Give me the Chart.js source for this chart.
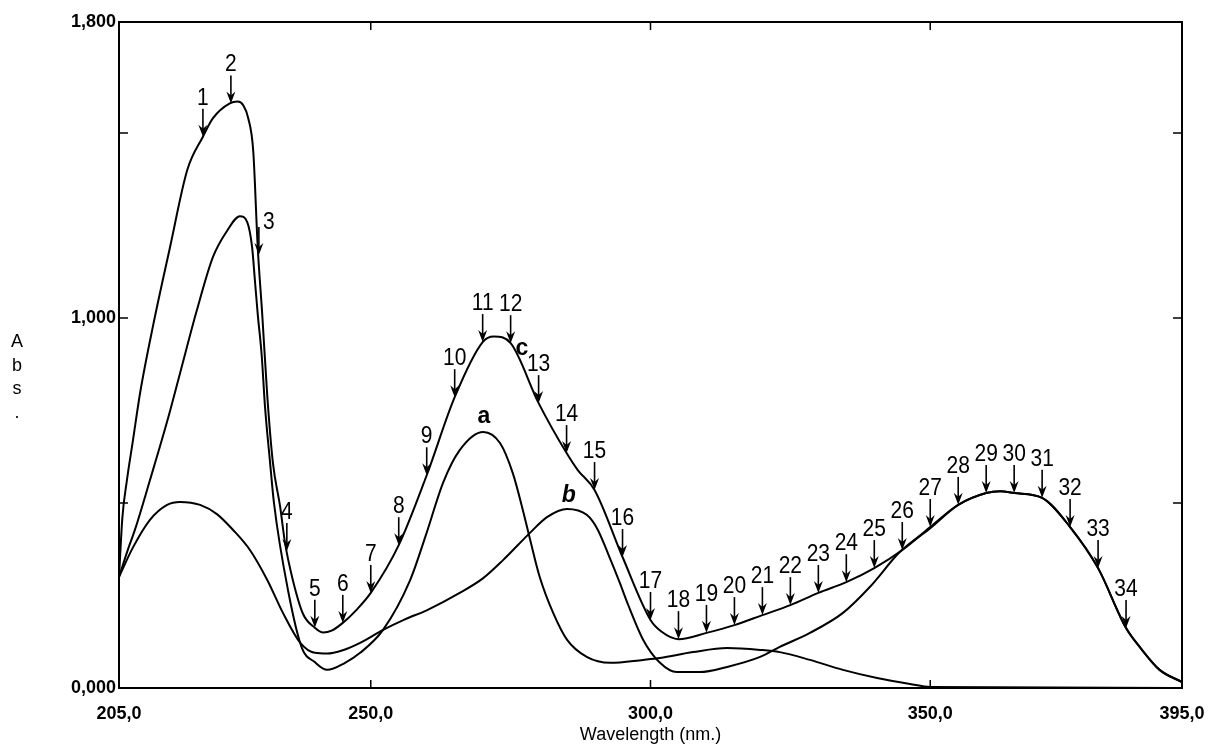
<!DOCTYPE html>
<html>
<head>
<meta charset="utf-8">
<title>Abs spectra</title>
<script src="https://cdn.jsdelivr.net/npm/chart.js"></script>
<style>
    html, body { margin: 0; padding: 0; background: #fff; }
    #wrap { width: 1222px; height: 751px; }
</style>
</head>
<body>
<div id="wrap"><canvas id="absChart" width="1222" height="751"></canvas></div>
<script>
// Spectra: wavelength (nm) / absorbance
const aWl = [205, 206.5, 207.9, 210.5, 213.6, 215.9, 218.9, 221.8, 224.3, 226.6,
    227.9, 228.8, 229.3, 229.8, 230.5, 231.1, 232.0, 232.7, 235.2, 237.7,
    240.0, 242.2, 245.4, 248.1, 252.2, 257.0, 260.0, 262.9, 265.9, 270.1,
    273.1, 275.4, 277.2, 278.5, 280.2, 282.6, 285.1, 288.6, 292.8, 298.7,
    301.7, 307.6, 313.7, 319.6, 323.1, 328.5, 334.4, 340.5, 346.4, 350.0, 395.0];
const aAbs = [0.30, 0.37, 0.43, 0.56, 0.72, 0.85, 1.02, 1.165, 1.235, 1.275,
    1.26, 1.19, 1.10, 1.01, 0.90, 0.76, 0.61, 0.50, 0.265, 0.108,
    0.070, 0.049, 0.068, 0.095, 0.157, 0.29, 0.42, 0.554, 0.643, 0.692,
    0.662, 0.58, 0.48, 0.40, 0.30, 0.203, 0.13, 0.084, 0.068, 0.076,
    0.081, 0.097, 0.108, 0.103, 0.097, 0.076, 0.049, 0.027, 0.011, 0.003, 0.0];

const bWl = [205, 207.5, 210.5, 213.6, 215.9, 219.5, 222.5, 225.4, 228.4, 231.5,
    234.3, 237.4, 240.0, 242.2, 245.0, 248.1, 252.2, 256.0, 260.0, 265.9,
    270.1, 273.6, 278.5, 281.5, 285.1, 288.6, 290.5, 292.5, 294.5, 296.0,
    298.7, 301.7, 304.7, 308.8, 313.7, 319.6, 323.1, 328.5, 334.4, 339.2,
    344.6, 350, 355, 360, 362.5, 365, 370, 375, 380, 385, 387.5, 391, 395];
const bAbs = [0.30, 0.38, 0.454, 0.495, 0.503, 0.495, 0.47, 0.427, 0.373, 0.292,
    0.203, 0.122, 0.095, 0.093, 0.102, 0.122, 0.157, 0.185, 0.21, 0.257,
    0.297, 0.345, 0.42, 0.462, 0.484, 0.468, 0.43, 0.36, 0.285, 0.225,
    0.13, 0.068, 0.043, 0.043, 0.057, 0.084, 0.111, 0.149, 0.203, 0.273,
    0.368, 0.432, 0.495, 0.527, 0.532, 0.527, 0.514, 0.435, 0.324, 0.162, 0.110, 0.049, 0.016];

const cWl = [205, 205.6, 206.4, 207.5, 208.8, 211.1, 214.1, 217.2, 220, 221.8,
    224.8, 226.2, 227.2, 228.1, 229, 229.8, 230.6, 231.5, 232.5, 233.8,
    234.7, 236.1, 237.9, 240, 241.5, 243, 245, 247.5, 250, 255,
    260, 265, 270, 272, 275, 280, 285, 287, 290, 295,
    300, 302, 305, 310, 315, 320, 325, 330, 335, 340,
    345, 350, 355, 360, 362.5, 365, 370, 375, 380, 385, 387.5, 391, 395];
const cAbs = [0.30, 0.46, 0.56, 0.67, 0.80, 0.98, 1.19, 1.40, 1.49, 1.54,
    1.58, 1.585, 1.575, 1.54, 1.45, 1.19, 1.01, 0.79, 0.61, 0.49,
    0.39, 0.29, 0.20, 0.163, 0.150, 0.155, 0.176, 0.212, 0.257, 0.386,
    0.575, 0.786, 0.935, 0.950, 0.932, 0.770, 0.635, 0.589, 0.535, 0.354,
    0.184, 0.152, 0.132, 0.149, 0.170, 0.197, 0.224, 0.257, 0.286, 0.324,
    0.373, 0.435, 0.495, 0.527, 0.532, 0.527, 0.514, 0.435, 0.324, 0.162, 0.110, 0.049, 0.016];

// numbered arrows on curve c (1..34)
const arrowWl = [220, 225, 230, 235, 240, 245, 250, 255, 260, 265,
    270, 275, 280, 285, 290, 295, 300, 305, 310, 315,
    320, 325, 330, 335, 340, 345, 350, 355, 360, 365,
    370, 375, 380, 385];
const arrowAbs = [1.49, 1.58, 1.17, 0.37, 0.163, 0.176, 0.257, 0.386, 0.575, 0.786,
    0.935, 0.932, 0.770, 0.635, 0.535, 0.354, 0.184, 0.132, 0.149, 0.170,
    0.197, 0.224, 0.257, 0.286, 0.324, 0.373, 0.435, 0.495, 0.527, 0.527,
    0.514, 0.435, 0.324, 0.162];

const curveNames = ['a', 'b', 'c'];
const curveNameWl = [270.2, 285.4, 277.0];
const curveNameAbs = [0.716, 0.503, 0.90];

const xTicks = [205, 250, 300, 350, 395];
const xTickLabels = ['205,0', '250,0', '300,0', '350,0', '395,0'];
const yTicks = [0, 0.5, 1.0, 1.5, 1.8];
const yTickLabels = ['0,000', '', '1,000', '', '1,800'];
const yTitleLetters = ['A', 'b', 's', '.'];

const toPoints = (wl, abs) => wl.map((w, i) => ({ x: w, y: abs[i] }));

function curve(label, wl, abs) {
    return {
        label: label,
        data: toPoints(wl, abs),
        borderColor: '#000',
        borderWidth: 2,
        pointRadius: 0,
        fill: false,
        cubicInterpolationMode: 'monotone'
    };
}

// frame, inward ticks, arrows and text labels
const decorPlugin = {
    id: 'decor',
    afterDraw(chart) {
        const { ctx, chartArea: area, scales: { x, y } } = chart;
        ctx.save();
        ctx.strokeStyle = '#000';
        ctx.fillStyle = '#000';

        ctx.lineWidth = 2;
        ctx.beginPath();
        ctx.moveTo(area.left, area.top);
        ctx.lineTo(area.right, area.top);
        ctx.lineTo(area.right, area.bottom);
        ctx.stroke();

        ctx.lineWidth = 1.5;
        ctx.beginPath();
        xTicks.slice(1, -1).forEach(v => {
            const px = x.getPixelForValue(v);
            ctx.moveTo(px, area.bottom);
            ctx.lineTo(px, area.bottom - 8);
            ctx.moveTo(px, area.top);
            ctx.lineTo(px, area.top + 8);
        });
        yTicks.slice(1, -1).forEach(v => {
            const py = y.getPixelForValue(v);
            ctx.moveTo(area.left, py);
            ctx.lineTo(area.left + 9, py);
            ctx.moveTo(area.right, py);
            ctx.lineTo(area.right - 9, py);
        });
        ctx.stroke();

        // arrows
        ctx.textAlign = 'center';
        ctx.textBaseline = 'alphabetic';
        ctx.font = '21px "Liberation Sans", Arial, sans-serif';
        arrowWl.forEach((w, i) => {
            const px = x.getPixelForValue(w);
            const py = y.getPixelForValue(arrowAbs[i]);
            ctx.lineWidth = 1.6;
            ctx.beginPath();
            ctx.moveTo(px, py - 28);
            ctx.lineTo(px, py - 6);
            ctx.stroke();
            ctx.beginPath();
            ctx.moveTo(px, py);
            ctx.lineTo(px - 4.5, py - 12);
            ctx.lineTo(px, py - 8);
            ctx.lineTo(px + 4.5, py - 12);
            ctx.closePath();
            ctx.fill();

            let lx = px, ly = py - 32;
            if (i === 2) { lx = px + 10; ly = py - 26; }
            ctx.save();
            ctx.translate(lx, ly);
            ctx.scale(1, 1.18);
            ctx.fillText(String(i + 1), 0, 0);
            ctx.restore();
        });

        // curve names
        curveNames.forEach((name, i) => {
            ctx.font = (name === 'b' ? 'italic ' : '') + 'bold 23px "Liberation Sans", Arial, sans-serif';
            ctx.fillText(name, x.getPixelForValue(curveNameWl[i]), y.getPixelForValue(curveNameAbs[i]));
        });

        // stacked y title
        ctx.font = '18px "Liberation Sans", Arial, sans-serif';
        yTitleLetters.forEach((ch, i) => {
            ctx.fillText(ch, 17, 347 + i * 23.5);
        });
        ctx.restore();
    }
};

const tickFont = { family: '"Liberation Sans", Arial, sans-serif', size: 18, weight: 'bold' };

const absChart = new Chart(document.getElementById('absChart').getContext('2d'), {
    type: 'line',
    data: {
        datasets: [
            curve('a', aWl, aAbs),
            curve('b', bWl, bAbs),
            curve('c', cWl, cAbs)
        ]
    },
    options: {
        responsive: false,
        animation: false,
        devicePixelRatio: 1,
        layout: { padding: { top: 22, right: 40, bottom: 0, left: 0 } },
        plugins: {
            legend: { display: false },
            tooltip: { enabled: false }
        },
        scales: {
            x: {
                type: 'linear',
                min: 205,
                max: 395,
                afterBuildTicks: scale => { scale.ticks = xTicks.map(v => ({ value: v })); },
                afterFit: scale => { scale.height = 63; },
                grid: { display: false, drawTicks: false },
                border: { display: true, color: '#000', width: 2 },
                ticks: {
                    autoSkip: false,
                    maxRotation: 0,
                    padding: 15,
                    color: '#000',
                    font: tickFont,
                    callback: (value, index) => xTickLabels[index]
                },
                title: {
                    display: true,
                    text: 'Wavelength (nm.)',
                    color: '#000',
                    font: { family: '"Liberation Sans", Arial, sans-serif', size: 18 },
                    padding: { top: 0, bottom: 5 }
                }
            },
            y: {
                type: 'linear',
                min: 0,
                max: 1.8,
                afterBuildTicks: scale => { scale.ticks = yTicks.map(v => ({ value: v })); },
                afterFit: scale => { scale.width = 119; },
                grid: { display: false, drawTicks: false },
                border: { display: true, color: '#000', width: 2 },
                ticks: {
                    autoSkip: false,
                    padding: 3,
                    color: '#000',
                    font: tickFont,
                    callback: (value, index) => yTickLabels[index]
                }
            }
        }
    },
    plugins: [decorPlugin]
});
</script>
</body>
</html>
